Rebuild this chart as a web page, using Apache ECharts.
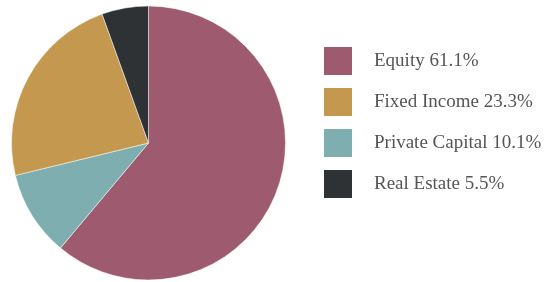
<!DOCTYPE html>
<html>
<head>
<meta charset="utf-8">
<script src="https://cdn.jsdelivr.net/npm/echarts@6/dist/echarts.min.js"></script>
<style>
html,body{margin:0;padding:0;background:#fff;}
#chart{width:548px;height:282px;}
</style>
</head>
<body>
<div id="chart"></div>
<script>
// Slice order as drawn clockwise from 12 o'clock
var sliceNames = ['Equity', 'Private Capital', 'Fixed Income', 'Real Estate'];
var sliceValues = [61.1, 10.1, 23.3, 5.5];
var sliceColors = ['#9E5A6F', '#7FAEB0', '#C4994F', '#2E3234'];
// Legend order
var legendOrder = ['Equity', 'Fixed Income', 'Private Capital', 'Real Estate'];

var valueByName = {};
sliceNames.forEach(function (n, i) { valueByName[n] = sliceValues[i]; });

var chart = echarts.init(document.getElementById('chart'), null, {renderer: 'canvas'});
chart.setOption({
  animation: false,
  legend: {
    orient: 'vertical',
    left: 322,
    top: 45,
    padding: 0,
    itemWidth: 30,
    itemHeight: 30,
    itemGap: 9,
    icon: 'rect',
    data: legendOrder,
    formatter: function (name) { return name + ' ' + valueByName[name].toFixed(1) + '%'; },
    textStyle: {
      fontFamily: 'Liberation Serif',
      fontSize: 19,
      color: '#555555',
      padding: [0, 0, 0, 16]
    }
  },
  series: [{
    type: 'pie',
    center: [148.5, 143],
    radius: 137,
    startAngle: 90,
    clockwise: true,
    label: {show: false},
    labelLine: {show: false},
    itemStyle: {borderColor: '#ffffff', borderWidth: 0.5},
    emphasis: {disabled: true},
    data: sliceNames.map(function (n, i) {
      return {name: n, value: sliceValues[i], itemStyle: {color: sliceColors[i]}};
    })
  }]
});
</script>
</body>
</html>
